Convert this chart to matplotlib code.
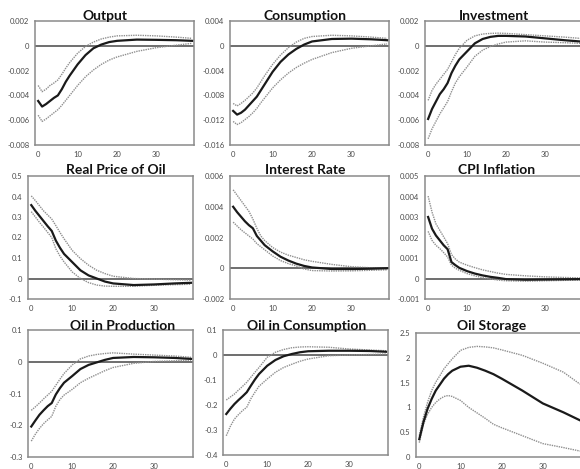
import numpy as np
import matplotlib
matplotlib.use("Agg")
import matplotlib.pyplot as plt

W, H = 580, 469

# quarters after the shock
t = [0, 1, 2, 3, 4, 5, 6, 7, 8, 10, 12, 14, 16, 18, 20, 25, 30, 35, 39]

output_mid = [-4.45e-3, -4.9e-3, -4.7e-3, -4.45e-3, -4.2e-3, -4.0e-3, -3.5e-3, -2.9e-3, -2.4e-3, -1.5e-3, -0.75e-3, -0.2e-3, 0.1e-3, 0.3e-3, 0.4e-3, 0.5e-3, 0.48e-3, 0.45e-3, 0.4e-3]
output_hi = [-3.2e-3, -3.7e-3, -3.5e-3, -3.2e-3, -3.0e-3, -2.75e-3, -2.3e-3, -1.8e-3, -1.35e-3, -0.6e-3, -0.05e-3, 0.3e-3, 0.55e-3, 0.7e-3, 0.8e-3, 0.85e-3, 0.8e-3, 0.7e-3, 0.6e-3]
output_lo = [-5.6e-3, -6.1e-3, -5.9e-3, -5.65e-3, -5.4e-3, -5.15e-3, -4.8e-3, -4.4e-3, -4.0e-3, -3.2e-3, -2.5e-3, -1.95e-3, -1.5e-3, -1.15e-3, -0.9e-3, -0.45e-3, -0.15e-3, 0.05e-3, 0.2e-3]

cons_mid = [-10.5e-3, -11.1e-3, -10.8e-3, -10.3e-3, -9.6e-3, -8.9e-3, -8.2e-3, -7.2e-3, -6.2e-3, -4.2e-3, -2.6e-3, -1.4e-3, -0.5e-3, 0.2e-3, 0.7e-3, 1.1e-3, 1.15e-3, 1.05e-3, 0.9e-3]
cons_hi = [-9.3e-3, -9.7e-3, -9.3e-3, -8.8e-3, -8.2e-3, -7.6e-3, -6.8e-3, -5.8e-3, -4.8e-3, -3.0e-3, -1.5e-3, -0.3e-3, 0.6e-3, 1.2e-3, 1.5e-3, 1.7e-3, 1.6e-3, 1.4e-3, 1.2e-3]
cons_lo = [-12.2e-3, -12.7e-3, -12.4e-3, -11.9e-3, -11.4e-3, -10.8e-3, -10.1e-3, -9.2e-3, -8.4e-3, -6.8e-3, -5.5e-3, -4.4e-3, -3.5e-3, -2.8e-3, -2.2e-3, -1.1e-3, -0.4e-3, 0.0, 0.3e-3]

inv_mid = [-5.9e-3, -5.1e-3, -4.5e-3, -3.9e-3, -3.5e-3, -3.0e-3, -2.2e-3, -1.6e-3, -1.1e-3, -0.45e-3, 0.2e-3, 0.55e-3, 0.72e-3, 0.8e-3, 0.8e-3, 0.75e-3, 0.6e-3, 0.45e-3, 0.35e-3]
inv_hi = [-4.4e-3, -3.6e-3, -3.1e-3, -2.7e-3, -2.3e-3, -1.9e-3, -1.3e-3, -0.7e-3, -0.2e-3, 0.45e-3, 0.8e-3, 0.95e-3, 1.0e-3, 1.02e-3, 1.0e-3, 0.9e-3, 0.8e-3, 0.7e-3, 0.6e-3]
inv_lo = [-7.5e-3, -6.7e-3, -6.1e-3, -5.5e-3, -5.0e-3, -4.5e-3, -3.7e-3, -3.0e-3, -2.5e-3, -1.7e-3, -0.85e-3, -0.35e-3, -0.05e-3, 0.15e-3, 0.3e-3, 0.4e-3, 0.3e-3, 0.25e-3, 0.2e-3]

oilp_mid = [0.358, 0.33, 0.305, 0.28, 0.255, 0.232, 0.185, 0.15, 0.12, 0.08, 0.04, 0.015, 0.0, -0.015, -0.024, -0.032, -0.029, -0.024, -0.021]
oilp_hi = [0.403, 0.38, 0.355, 0.33, 0.31, 0.29, 0.258, 0.225, 0.194, 0.137, 0.097, 0.065, 0.04, 0.024, 0.011, 0.0, -0.003, -0.006, -0.008]
oilp_lo = [0.326, 0.3, 0.274, 0.25, 0.225, 0.2, 0.145, 0.11, 0.081, 0.032, 0.0, -0.02, -0.032, -0.037, -0.038, -0.038, -0.033, -0.03, -0.028]

rate_mid = [4.0e-3, 3.65e-3, 3.35e-3, 3.05e-3, 2.8e-3, 2.6e-3, 2.1e-3, 1.8e-3, 1.5e-3, 1.1e-3, 0.75e-3, 0.5e-3, 0.3e-3, 0.15e-3, 0.05e-3, -0.05e-3, -0.05e-3, -0.03e-3, 0.0]
rate_hi = [5.1e-3, 4.75e-3, 4.4e-3, 4.05e-3, 3.7e-3, 3.2e-3, 2.6e-3, 2.1e-3, 1.8e-3, 1.35e-3, 1.05e-3, 0.85e-3, 0.7e-3, 0.55e-3, 0.45e-3, 0.25e-3, 0.1e-3, 0.03e-3, 0.0]
rate_lo = [3.0e-3, 2.75e-3, 2.5e-3, 2.3e-3, 2.1e-3, 1.9e-3, 1.6e-3, 1.4e-3, 1.2e-3, 0.8e-3, 0.5e-3, 0.3e-3, 0.15e-3, -0.05e-3, -0.15e-3, -0.18e-3, -0.17e-3, -0.13e-3, -0.1e-3]

cpi_mid = [3.0e-3, 2.43e-3, 2.1e-3, 1.86e-3, 1.62e-3, 1.43e-3, 0.8e-3, 0.65e-3, 0.52e-3, 0.36e-3, 0.24e-3, 0.15e-3, 0.08e-3, 0.03e-3, -0.03e-3, -0.06e-3, -0.05e-3, -0.04e-3, -0.03e-3]
cpi_hi = [4.02e-3, 3.24e-3, 2.67e-3, 2.35e-3, 2.03e-3, 1.7e-3, 1.17e-3, 0.95e-3, 0.8e-3, 0.65e-3, 0.53e-3, 0.42e-3, 0.34e-3, 0.26e-3, 0.2e-3, 0.13e-3, 0.08e-3, 0.05e-3, 0.03e-3]
cpi_lo = [2.3e-3, 1.86e-3, 1.62e-3, 1.46e-3, 1.26e-3, 1.05e-3, 0.65e-3, 0.5e-3, 0.4e-3, 0.24e-3, 0.13e-3, 0.04e-3, -0.02e-3, -0.08e-3, -0.11e-3, -0.13e-3, -0.11e-3, -0.09e-3, -0.08e-3]

oprod_mid = [-0.204, -0.185, -0.167, -0.153, -0.14, -0.13, -0.103, -0.083, -0.066, -0.045, -0.023, -0.01, -0.002, 0.006, 0.012, 0.015, 0.014, 0.012, 0.009]
oprod_hi = [-0.153, -0.142, -0.13, -0.117, -0.105, -0.093, -0.074, -0.055, -0.037, -0.01, 0.009, 0.018, 0.023, 0.026, 0.028, 0.024, 0.021, 0.018, 0.014]
oprod_lo = [-0.25, -0.228, -0.21, -0.195, -0.183, -0.172, -0.14, -0.119, -0.105, -0.087, -0.066, -0.052, -0.04, -0.028, -0.018, -0.005, 0.001, 0.003, 0.005]

ocons_mid = [-0.236, -0.215, -0.196, -0.18, -0.165, -0.149, -0.123, -0.098, -0.076, -0.043, -0.02, -0.005, 0.004, 0.011, 0.015, 0.017, 0.017, 0.016, 0.013]
ocons_hi = [-0.18, -0.168, -0.156, -0.14, -0.125, -0.109, -0.089, -0.069, -0.05, -0.009, 0.011, 0.022, 0.029, 0.032, 0.033, 0.031, 0.024, 0.02, 0.017]
ocons_lo = [-0.323, -0.285, -0.256, -0.238, -0.222, -0.209, -0.175, -0.149, -0.125, -0.096, -0.069, -0.05, -0.037, -0.025, -0.016, -0.003, 0.0, 0.002, 0.004]

stor_mid = [0.36, 0.70, 0.97, 1.17, 1.34, 1.46, 1.58, 1.67, 1.74, 1.82, 1.84, 1.80, 1.74, 1.67, 1.58, 1.34, 1.08, 0.90, 0.74]
stor_hi = [0.43, 0.80, 1.10, 1.34, 1.51, 1.64, 1.78, 1.88, 1.98, 2.15, 2.21, 2.23, 2.22, 2.20, 2.16, 2.05, 1.89, 1.71, 1.47]
stor_lo = [0.29, 0.66, 0.86, 1.0, 1.10, 1.17, 1.22, 1.24, 1.22, 1.14, 1.0, 0.89, 0.78, 0.66, 0.59, 0.43, 0.27, 0.19, 0.12]

titles = ["Output", "Consumption", "Investment",
          "Real Price of Oil", "Interest Rate", "CPI Inflation",
          "Oil in Production", "Oil in Consumption", "Oil Storage"]
series = [(output_mid, output_hi, output_lo), (cons_mid, cons_hi, cons_lo), (inv_mid, inv_hi, inv_lo),
          (oilp_mid, oilp_hi, oilp_lo), (rate_mid, rate_hi, rate_lo), (cpi_mid, cpi_hi, cpi_lo),
          (oprod_mid, oprod_hi, oprod_lo), (ocons_mid, ocons_hi, ocons_lo), (stor_mid, stor_hi, stor_lo)]
ylims = [(-0.008, 0.002, 0.002), (-0.016, 0.004, 0.004), (-0.008, 0.002, 0.002),
         (-0.1, 0.5, 0.1), (-0.002, 0.006, 0.002), (-0.001, 0.005, 0.001),
         (-0.3, 0.1, 0.1), (-0.4, 0.1, 0.1), (0.0, 2.5, 0.5)]

# plot boxes in pixels: left, top, right, bottom
boxes = [(35, 21, 194, 145), (230, 21, 389, 145), (425, 21, 582, 145),
         (28, 176, 193, 299), (230, 176, 389, 299), (425, 176, 582, 299),
         (28, 330, 193, 457), (223, 330, 388, 455), (416, 333, 582, 457)]
title_pos = [(105, 19.5), (305, 19.5), (494, 19.5),
             (116, 174.5), (305, 174.5), (497, 174.5),
             (123, 329.5), (307, 329.5), (492, 329.5)]


def fmt(v):
    v = round(v, 6)
    if abs(v) < 1e-12:
        return "0"
    return f"{v:g}"


fig = plt.figure(figsize=(W / 100, H / 100), dpi=100)

for i in range(9):
    l, tp, r, b = boxes[i]
    ax = fig.add_axes([l / W, 1 - b / H, (r - l) / W, (b - tp) / H])
    mid, hi, lo = series[i]
    ymin, ymax, step = ylims[i]

    if ymin < 0:
        ax.axhline(0, color='#6e6e6e', lw=1.4, zorder=1)
    ax.plot(t, hi, color='#8f8f8f', lw=1.0, ls=(0, (1, 0.7)), zorder=2)
    ax.plot(t, lo, color='#8f8f8f', lw=1.0, ls=(0, (1, 0.7)), zorder=2)
    ax.plot(t, mid, color='#1a1a1a', lw=1.6, zorder=3)

    ax.set_xlim(-0.8, 39.5)
    ax.set_ylim(ymin, ymax)
    yt = np.arange(ymin, ymax + step / 2, step)
    ax.set_yticks(yt)
    ax.set_yticklabels([fmt(v) for v in yt])
    ax.set_xticks([0, 10, 20, 30])
    ax.set_xticklabels(["0", "10", "20", "30"])
    ax.tick_params(length=0, labelsize=5.5, labelcolor='#4a4a4a', pad=4)
    for lab in ax.get_xticklabels() + ax.get_yticklabels():
        lab.set_family('Lato')
    for s in ax.spines.values():
        s.set_color('#8a8a8a')
        s.set_linewidth(1.1)

    tx, ty = title_pos[i]
    fig.text(tx / W, 1 - ty / H, titles[i], ha='center', va='baseline',
             fontsize=10, fontweight='bold', family='Lato', color='#111111')

fig.savefig("out.png", dpi=100)
